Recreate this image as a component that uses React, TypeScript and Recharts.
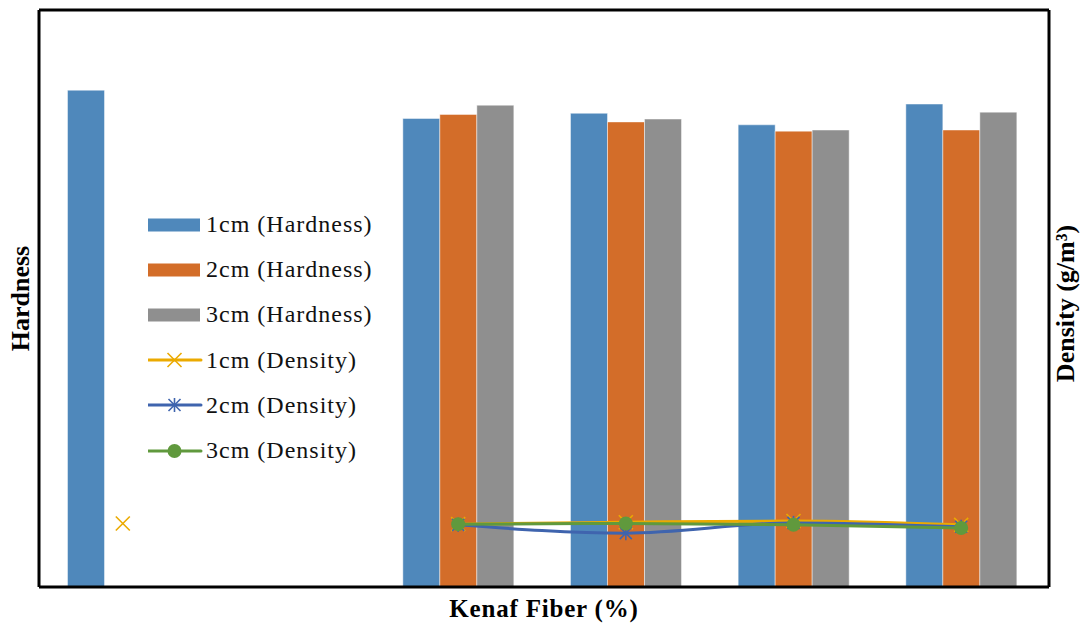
import React from 'react';
import { ComposedChart, Bar, Line, XAxis, YAxis, Legend, Label } from 'recharts';

const categories = ['0', '5', '10', '15', '20', '25'];
const hardness1cm = [86.1, null, 81.2, 82.1, 80.1, 83.7];
const hardness2cm = [null, null, 81.9, 80.6, 79.0, 79.2];
const hardness3cm = [null, null, 83.5, 81.1, 79.2, 82.3];
const density1cm = [0.99, null, 0.98, 1.01, 1.03, 0.97];
const density2cm = [null, null, 0.97, 0.84, 1.0, 0.94];
const density3cm = [null, null, 0.98, 0.99, 0.97, 0.92];

const seriesLabels = [
  '1cm (Hardness)',
  '2cm (Hardness)',
  '3cm (Hardness)',
  '1cm (Density)',
  '2cm (Density)',
  '3cm (Density)',
];

const C_BLUE = '#4F88BB';
const C_ORANGE = '#D36D29';
const C_GRAY = '#8F8F8F';
const C_YEL = '#EBAA00';
const C_LBLUE = '#3F64AE';
const C_GREEN = '#60993D';

const FONT = "'Liberation Serif', 'Times New Roman', serif";

const data = categories.map((c, i) => ({
  cat: c,
  h1: hardness1cm[i],
  h2: hardness2cm[i],
  h3: hardness3cm[i],
  d1: density1cm[i],
  d2: density2cm[i],
  d3: density3cm[i],
}));

const XMark = (props: any) => {
  const { cx, cy, color, key } = props;
  if (cx == null || cy == null) return <g key={key} />;
  const s = 7;
  return (
    <g key={key}>
      <line x1={cx - s} y1={cy - s} x2={cx + s} y2={cy + s} stroke={color} strokeWidth={1.6} />
      <line x1={cx - s} y1={cy + s} x2={cx + s} y2={cy - s} stroke={color} strokeWidth={1.6} />
    </g>
  );
};

const StarMark = (props: any) => {
  const { cx, cy, color, key } = props;
  if (cx == null || cy == null) return <g key={key} />;
  const s = 6;
  return (
    <g key={key}>
      <line x1={cx - s} y1={cy - s} x2={cx + s} y2={cy + s} stroke={color} strokeWidth={1.6} />
      <line x1={cx - s} y1={cy + s} x2={cx + s} y2={cy - s} stroke={color} strokeWidth={1.6} />
      <line x1={cx} y1={cy - s - 1} x2={cx} y2={cy + s + 1} stroke={color} strokeWidth={1.6} />
    </g>
  );
};

const CircleMark = (props: any) => {
  const { cx, cy, color, key } = props;
  if (cx == null || cy == null) return <g key={key} />;
  return <circle key={key} cx={cx} cy={cy} r={7} fill={color} />;
};

const legendSpecs = [
  { kind: 'bar', color: C_BLUE },
  { kind: 'bar', color: C_ORANGE },
  { kind: 'bar', color: C_GRAY },
  { kind: 'x', color: C_YEL },
  { kind: 'star', color: C_LBLUE },
  { kind: 'circle', color: C_GREEN },
];

const LegendContent = () => (
  <div style={{ fontFamily: FONT, fontSize: 24, color: '#111', letterSpacing: 1.0 }}>
    {seriesLabels.map((label, i) => {
      const spec = legendSpecs[i];
      return (
        <div key={label} style={{ display: 'flex', alignItems: 'center', height: 45.2, whiteSpace: 'nowrap' }}>
          <svg width={58} height={20} style={{ display: 'block' }}>
            {spec.kind === 'bar' ? (
              <rect x={0} y={3.5} width={52} height={13} fill={spec.color} />
            ) : (
              <g>
                <line x1={0} y1={10} x2={53} y2={10} stroke={spec.color} strokeWidth={3} strokeLinecap="round" />
                {spec.kind === 'x' && <XMark cx={26.5} cy={10} color={spec.color} />}
                {spec.kind === 'star' && <StarMark cx={26.5} cy={10} color={spec.color} />}
                {spec.kind === 'circle' && <CircleMark cx={26.5} cy={10} color={spec.color} />}
              </g>
            )}
          </svg>
          <span>{label}</span>
        </div>
      );
    })}
  </div>
);

export default function App() {
  return (
    <div style={{ position: 'absolute', left: 0, top: 0, width: 1080, height: 623, background: '#fff' }}>
      <ComposedChart
        width={1080}
        height={623}
        data={data}
        margin={{ top: 0, right: 0, bottom: 0, left: 0 }}
        barCategoryGap="17%"
        barGap={0}
      >
        <XAxis
          dataKey="cat"
          xAxisId="bottom"
          height={36}
          padding={{ left: 0, right: 4 }}
          tick={false}
          tickLine={false}
          axisLine={{ stroke: '#000', strokeWidth: 3 }}
        >
          <Label
            value="Kenaf Fiber (%)"
            position="insideBottom"
            offset={6}
            style={{ fontFamily: FONT, fontSize: 25, fontWeight: 'bold', fill: '#000', letterSpacing: 0.8 }}
          />
        </XAxis>
        <XAxis
          dataKey="cat"
          xAxisId="top"
          orientation="top"
          height={10}
          tick={false}
          tickLine={false}
          axisLine={{ stroke: '#000', strokeWidth: 3 }}
        />
        <YAxis
          yAxisId="left"
          width={39}
          domain={[0, 100]}
          tick={false}
          tickLine={false}
          axisLine={{ stroke: '#000', strokeWidth: 3 }}
        >
          <Label
            value="Hardness"
            position="center"
            angle={-90}
            style={{ fontFamily: FONT, fontSize: 26, fontWeight: 'bold', fill: '#000' }}
          />
        </YAxis>
        <YAxis
          yAxisId="right"
          orientation="right"
          width={31}
          domain={[0, 9]}
          tick={false}
          tickLine={false}
          axisLine={{ stroke: '#000', strokeWidth: 3 }}
        >
          <Label
            value="Density (g/m³)"
            position="center"
            angle={-90}
            dy={5}
            style={{ fontFamily: FONT, fontSize: 26, fontWeight: 'bold', fill: '#000' }}
          />
        </YAxis>
        <Legend
          layout="vertical"
          align="center"
          verticalAlign="middle"
          content={<LegendContent />}
          wrapperStyle={{ left: 148, top: 202, width: 'auto', height: 'auto' }}
        />
        <Bar dataKey="h1" xAxisId="bottom" yAxisId="left" fill={C_BLUE} stroke="#ffffff" strokeOpacity={0.45} strokeWidth={1} isAnimationActive={false} />
        <Bar dataKey="h2" xAxisId="bottom" yAxisId="left" fill={C_ORANGE} stroke="#ffffff" strokeOpacity={0.45} strokeWidth={1} isAnimationActive={false} />
        <Bar dataKey="h3" xAxisId="bottom" yAxisId="left" fill={C_GRAY} stroke="#ffffff" strokeOpacity={0.45} strokeWidth={1} isAnimationActive={false} />
        <Line
          dataKey="d1"
          xAxisId="bottom"
          yAxisId="right"
          type="monotone"
          stroke={C_YEL}
          strokeWidth={3}
          dot={(p: any) => <XMark {...p} key={p.key} color={C_YEL} />}
          activeDot={false}
          isAnimationActive={false}
        />
        <Line
          dataKey="d2"
          xAxisId="bottom"
          yAxisId="right"
          type="monotone"
          stroke={C_LBLUE}
          strokeWidth={3}
          dot={(p: any) => <StarMark {...p} key={p.key} color={C_LBLUE} />}
          activeDot={false}
          isAnimationActive={false}
        />
        <Line
          dataKey="d3"
          xAxisId="bottom"
          yAxisId="right"
          type="monotone"
          stroke={C_GREEN}
          strokeWidth={3}
          dot={(p: any) => <CircleMark {...p} key={p.key} color={C_GREEN} />}
          activeDot={false}
          isAnimationActive={false}
        />
      </ComposedChart>
    </div>
  );
}
